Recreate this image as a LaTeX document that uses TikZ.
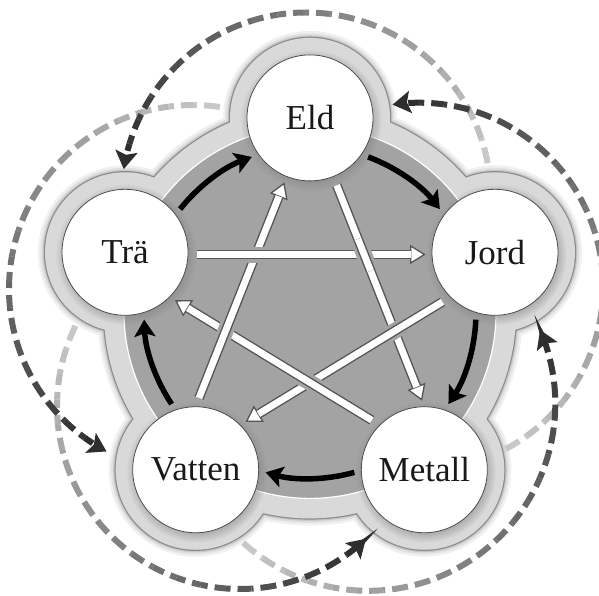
\documentclass[tikz,border=0pt]{standalone}
\usepackage{fontspec}
\setmainfont{Liberation Serif}
\usetikzlibrary{arrows.meta,shadows,calc,fadings}
\definecolor{blobc}{HTML}{D9D9D9}
\definecolor{blobedge}{HTML}{8C8C8C}
\definecolor{diskc}{HTML}{A3A3A3}
\definecolor{wedge}{HTML}{555555}
\definecolor{nodeedge}{HTML}{4D4D4D}
\newcommand\whitearrow[2]{%
  \draw[gapstroke, shorten <=9pt, shorten >=21pt] #1 -- #2;
  \draw[tipstroke, shorten <=9pt, shorten >=6pt] #1 -- #2;
  \draw[shaftstroke, shorten <=9pt, shorten >=21pt] #1 -- #2;
}
\begin{document}
\begin{tikzpicture}[x=1pt,y=1pt,
  elem/.style={circle, minimum size=126pt, inner sep=0pt, fill=white, draw=nodeedge, line width=0.8pt,
    font=\fontsize{35}{35}\selectfont, text=black!90,
    circular drop shadow={shadow xshift=1pt, shadow yshift=-2pt, shadow scale=1.12, opacity=0.5}},
  gapstroke/.style={draw=diskc, line width=16pt},
  tipstroke/.style={draw=wedge, line width=1.3pt, -{Triangle[length=15.5pt,width=19pt,fill=white]}},
  shaftstroke/.style={draw=wedge, line width=1.4pt, double=white, double distance=6.8pt},
  cycarrow/.style={line width=5.5pt, black, -{Stealth[length=17pt,width=21pt,inset=3.5pt]}},
  dasharc/.style={line width=6pt, dash pattern=on 16pt off 7pt},
]
\useasboundingbox (0,0) rectangle (599,595);
\coordinate (O) at (310,282.6);
\coordinate (cE) at ($(O)+(90:194.5)$);
\coordinate (cJ) at ($(O)+(18:194.5)$);
\coordinate (cM) at ($(O)+(-54:194.5)$);
\coordinate (cV) at ($(O)+(-126:194.5)$);
\coordinate (cT) at ($(O)+(162:194.5)$);
% blob shadow
\foreach \w/\g in {14/6, 9/12, 5/22}{
  \draw[black!\g, line width=\w pt, yshift=-1.5pt]
    (O) circle[radius=206pt]
    (cE) circle[radius=80pt] (cJ) circle[radius=80pt] (cM) circle[radius=80pt]
    (cV) circle[radius=80pt] (cT) circle[radius=80pt];
}
% blob outline and fill
\draw[blobedge, line width=2.4pt]
    (O) circle[radius=206pt]
    (cE) circle[radius=80pt] (cJ) circle[radius=80pt] (cM) circle[radius=80pt]
    (cV) circle[radius=80pt] (cT) circle[radius=80pt];
\fill[blobc]
    (O) circle[radius=206pt];
\foreach \c in {cE,cJ,cM,cV,cT}{\fill[blobc] (\c) circle[radius=80pt];}
% dark disk
\fill[diskc] (O) circle[radius=186pt];
\draw[white, line width=1.2pt] (O) circle[radius=186pt];
% nodes
\node[elem] (Eld) at (cE) {Eld};
\node[elem] (Jord) at (cJ) {Jord};
\node[elem] (Metall) at (cM) {Metall};
\node[elem] (Vatten) at (cV) {Vatten};
\node[elem] (Tra) at (cT) {Trä};
% woven star
\whitearrow{(Eld)}{(Metall.north)}
\whitearrow{(Jord.south west)}{(Vatten.north east)}
\whitearrow{(Metall.north west)}{(Tra.south east)}
\whitearrow{(Vatten.north)}{(Eld)}
\whitearrow{(Tra.-2.5)}{(Jord.182.5)}
\draw[gapstroke] ($(Eld)!0.42!(Metall.north)$) -- ($(Eld)!0.53!(Metall.north)$);
\draw[shaftstroke] ($(Eld)!0.42!(Metall.north)$) -- ($(Eld)!0.53!(Metall.north)$);
% generating cycle
\foreach \m in {126,54,-18,-90,-162}{
  \draw[cycarrow] ($(O)+({\m+15.5}:166)$) arc[start angle={\m+15.5}, end angle={\m-15.5}, radius=166pt];
}
% dashed outer arcs
\foreach \i in {0,...,18}{
  \foreach \cx/\cy/\r/\a/\b in {193/306/184/81.6/242, 240/189/183/154/313.5, 368.3/191.2/187/228/383.3, 419.1/308.3/184/-62/98.3, 306.2/397.9/184.6/10.6/171.3}{
    \pgfmathsetmacro\sa{\a+(\b-\a)*\i/20}
    \pgfmathsetmacro\ea{\a+(\b-\a)*(\i+1)/20}
    \pgfmathsetmacro\ph{\r*pi/180*(\b-\a)/20*\i}
    \pgfmathsetmacro\sh{20+63*(\i+0.5)/20}
    \draw[dasharc, draw=black!\sh, dash phase=\ph pt]
      ({\cx+\r*cos(\sa)},{\cy+\r*sin(\sa)}) arc[start angle=\sa, end angle=\ea, radius=\r pt];
  }
}
\foreach \cx/\cy/\r/\a/\b in {193/306/184/81.6/242, 240/189/183/154/313.5, 368.3/191.2/187/228/383.3, 419.1/308.3/184/-62/98.3, 306.2/397.9/184.6/10.6/171.3}{
  \pgfmathsetmacro\sa{\a+(\b-\a)*19/20}
  \pgfmathsetmacro\ph{\r*pi/180*(\b-\a)/20*19}
  \draw[dasharc, draw=black!82, dash phase=\ph pt, -{Stealth[length=18pt,width=22pt,inset=3.5pt]}]
    ({\cx+\r*cos(\sa)},{\cy+\r*sin(\sa)}) arc[start angle=\sa, end angle=\b, radius=\r pt];
}
\end{tikzpicture}
\end{document}
